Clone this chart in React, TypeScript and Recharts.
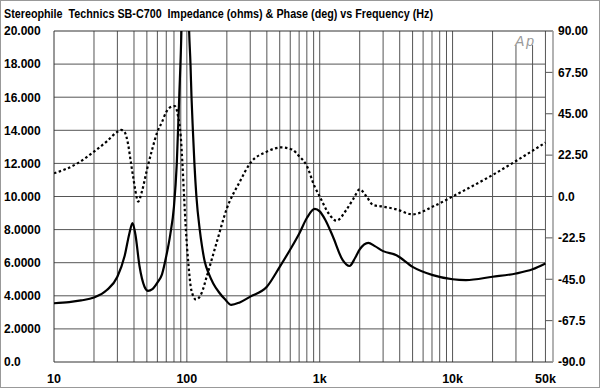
import React from "react";
import { LineChart, Line, XAxis, YAxis, ReferenceLine } from "recharts";

// impedance magnitude (ohms) vs frequency (Hz)
const impFreq = [
  10, 13, 16, 20, 25, 30, 34, 37, 39, 41, 44, 48, 51, 55, 60, 65, 70, 75, 80, 84,
  87.6, 91, 97, 104, 106.5, 108.4, 111, 114, 118, 125, 130, 136, 147, 158, 175, 193,
  216, 250, 300, 400, 500, 600, 705, 800, 917, 1000, 1100, 1254, 1490, 1675, 1850,
  2000, 2320, 2600, 3000, 3780, 5000, 7100, 10000, 12600, 20000, 30000, 40000, 50000,
];
const impOhms = [
  3.55, 3.62, 3.72, 3.9, 4.35, 5.15, 6.4, 7.8, 8.4, 7.7, 5.8, 4.55, 4.3, 4.4, 4.8, 5.3,
  6.4, 7.7, 9.4, 12, 16, 20, 34, 20, 18, 16, 14, 12, 10, 8, 7, 6.1, 5.3, 4.75, 4.2, 3.8,
  3.45, 3.6, 3.95, 4.55, 5.75, 6.8, 7.8, 8.7, 9.25, 9.1, 8.6, 7.6, 6.15, 5.8, 6.3, 6.8,
  7.2, 7.0, 6.7, 6.45, 5.75, 5.25, 5.0, 4.95, 5.15, 5.35, 5.6, 5.95,
];

// phase (degrees) vs frequency (Hz)
const phaseFreq = [
  10, 15, 20, 25, 30, 32, 34, 36, 38, 39.4, 41, 43, 46, 50, 55, 60, 65, 70, 75, 81, 86,
  90, 92.6, 95.3, 98.3, 102.5, 108, 117, 129, 141, 167, 200, 250, 300, 400, 516, 620,
  705, 794, 917, 1000, 1188, 1336, 1585, 1800, 2000, 2250, 2520, 3000, 3780, 5000,
  7100, 10000, 20000, 30000, 50000,
];
const phaseDeg = [
  12.6, 18, 24.4, 30, 35.2, 36.2, 35, 29, 18, 10.8, 3, -2.8, 3, 14.4, 26, 35.2, 40.5,
  46, 48.5, 49.2, 43.4, 32.5, 18, 0, -18, -36, -50.8, -56, -52.6, -43.6, -25.4, -6.5,
  8, 18.1, 24.4, 26.7, 25.5, 21.7, 17.1, 5.3, 0, -10, -13.2, -7.3, -1, 3.9, 0, -4.6,
  -5.5, -7.0, -9.7, -5.5, 0, 11.7, 19.3, 29.3,
];

const gridFreqs = [
  20, 30, 40, 50, 60, 70, 80, 90, 100, 200, 300, 400, 500, 600, 700, 800, 900, 1000,
  2000, 3000, 4000, 5000, 6000, 7000, 8000, 9000, 10000, 20000, 50000,
];
const logoFreqs = [30000, 40000]; // these stop below the Ap logo
const ohmTicks = [0, 2, 4, 6, 8, 10, 12, 14, 16, 18, 20];
const phaseTicks = [-90, -67.5, -45, -22.5, 0, 22.5, 45, 67.5, 90];
const freqTicks = [10, 100, 1000, 10000, 50000];
const freqLabels = ["10", "100", "1k", "10k", "50k"];

const impData = impFreq.map((f, i) => ({ f, z: impOhms[i] }));
const phaseData = phaseFreq.map((f, i) => ({ f, p: phaseDeg[i] }));

const font = "'Liberation Sans', Arial, Helvetica, sans-serif";
const gridColor = "#555";

const fmtOhm = (v: number) => (v === 0 ? "0.0" : v >= 10 ? v.toFixed(3) : v.toFixed(4));
const fmtDeg = (v: number) => (v === 0 ? "0.0" : v > 0 ? v.toFixed(2) : v.toFixed(1));

const LeftTick = (props: any) => (
  <text x={4} y={props.y + 4.3} fontSize={12} fontWeight="bold" fontFamily={font} fill="#000">
    {fmtOhm(props.payload.value)}
  </text>
);

const RightTick = (props: any) => (
  <text x={props.x + 5} y={props.y + 4.3} fontSize={12} fontWeight="bold" fontFamily={font} fill="#000">
    {fmtDeg(props.payload.value)}
  </text>
);

const BottomTick = (props: any) => {
  const i = freqTicks.indexOf(props.payload.value);
  return (
    <text x={props.x} y={props.y + 21} textAnchor="middle" fontSize={12.5} fontWeight="bold" fontFamily={font} fill="#000">
      {freqLabels[i]}
    </text>
  );
};

export default function App() {
  return (
    <div style={{ position: "absolute", left: 0, top: 0, width: 600, height: 388, background: "#fff" }}>
      <LineChart width={600} height={388} margin={{ top: 31, right: 0, bottom: 0, left: 0 }}>
        <XAxis
          dataKey="f"
          type="number"
          scale="log"
          domain={[10, 57000]}
          allowDataOverflow
          ticks={freqTicks}
          interval={0}
          tick={<BottomTick />}
          tickLine={false}
          axisLine={false}
          tickSize={0}
          tickMargin={0}
          height={26}
        />
        <YAxis
          yAxisId="ohm"
          domain={[0, 20]}
          allowDataOverflow
          ticks={ohmTicks}
          interval={0}
          tick={<LeftTick />}
          tickLine={false}
          axisLine={false}
          tickSize={0}
          tickMargin={0}
          width={54}
        />
        <YAxis
          yAxisId="phase"
          orientation="right"
          domain={[-90, 90]}
          allowDataOverflow
          ticks={phaseTicks}
          interval={0}
          tick={<RightTick />}
          tickLine={false}
          axisLine={false}
          tickSize={0}
          tickMargin={0}
          width={47}
        />

        {gridFreqs.map((f) => (
          <ReferenceLine key={"v" + f} yAxisId="ohm" x={f} stroke={gridColor} strokeWidth={1} />
        ))}
        {logoFreqs.map((f) => (
          <ReferenceLine
            key={"l" + f}
            yAxisId="ohm"
            segment={[{ x: f, y: 0 }, { x: f, y: 19.15 }]}
            stroke={gridColor}
            strokeWidth={1}
          />
        ))}
        {ohmTicks.slice(1, -1).map((v) => (
          <ReferenceLine
            key={"h" + v}
            yAxisId="ohm"
            segment={[{ x: 10, y: v }, { x: 50000, y: v }]}
            stroke={gridColor}
            strokeWidth={1}
          />
        ))}
        {phaseTicks.slice(1, -1).map((v) => (
          <ReferenceLine
            key={"t" + v}
            yAxisId="phase"
            segment={[{ x: 50000, y: v }, { x: 57000, y: v }]}
            stroke={gridColor}
            strokeWidth={1}
          />
        ))}
        <ReferenceLine yAxisId="ohm" y={20} stroke="#333" strokeWidth={1} />
        <ReferenceLine yAxisId="ohm" y={0} stroke="#333" strokeWidth={1} />
        <ReferenceLine yAxisId="ohm" x={10} stroke="#333" strokeWidth={1} />
        <ReferenceLine yAxisId="ohm" x={57000} stroke="#999" strokeWidth={1.5} />

        <Line
          yAxisId="phase"
          data={phaseData}
          dataKey="p"
          type="monotone"
          stroke="#000"
          strokeWidth={2.2}
          strokeDasharray="2.5 2.5"
          dot={false}
          activeDot={false}
          isAnimationActive={false}
        />
        <Line
          yAxisId="ohm"
          data={impData}
          dataKey="z"
          type="monotone"
          stroke="#000"
          strokeWidth={2.2}
          dot={false}
          activeDot={false}
          isAnimationActive={false}
        />
      </LineChart>

      <svg width={600} height={388} style={{ position: "absolute", left: 0, top: 0, pointerEvents: "none" }}>
        <rect x={0.5} y={0.5} width={599} height={387} fill="none" stroke="#999" strokeWidth={1} />
        <text
          x={4}
          y={18.3}
          fontSize={12.5}
          fontWeight="bold"
          fontFamily={font}
          textLength={429}
          lengthAdjust="spacingAndGlyphs"
          fill="#000"
          style={{ whiteSpace: "pre" }}
        >
          {"Stereophile  Technics SB-C700  Impedance (ohms) & Phase (deg) vs Frequency (Hz)"}
        </text>
        <text x={515} y={46} fontSize={14} fontStyle="italic" fontFamily={font} letterSpacing={2} fill="#999">
          Ap
        </text>
      </svg>
    </div>
  );
}
